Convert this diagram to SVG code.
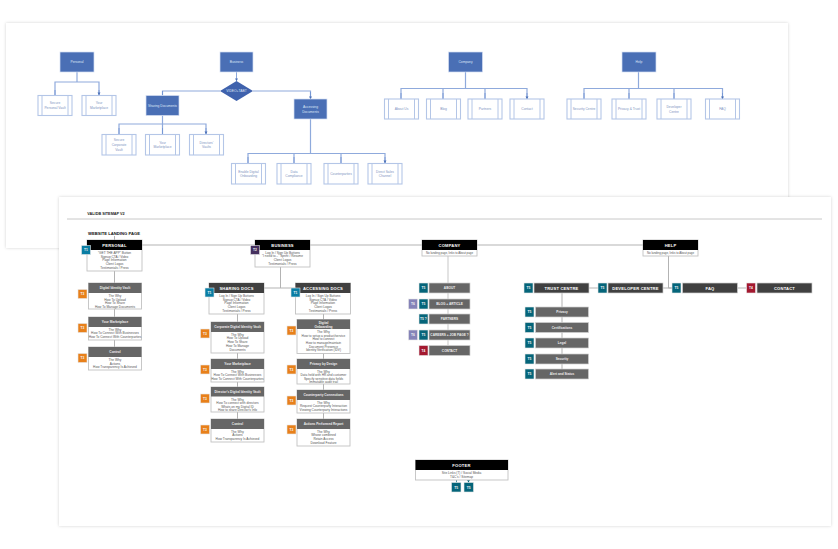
<svg xmlns="http://www.w3.org/2000/svg" width="838" height="549" viewBox="0 0 838 549">
<style>
text{font-family:"Liberation Sans",Arial,sans-serif;text-anchor:middle}
.pn{fill:#fff;filter:url(#sh)}
.bc{fill:none;stroke:#8faadc;stroke-width:1.2}
.ba{fill:none;stroke:#6f92d2;stroke-width:.8;marker-end:url(#ah)}
.bn{fill:#4a6fb5;stroke:#d5dff2;stroke-width:.7}
.bd{fill:#3f62ad}
.bp{fill:#fff;stroke:#b4c6e7;stroke-width:1.1}
.bl{stroke:#b4c6e7;stroke-width:1}
.bw{font-size:3.3px;fill:#dfe7f7}
.bt{font-size:3.3px;fill:#7d93c2}
.fc{fill:none;stroke:#b3b3b3;stroke-width:1}
.fl{fill:none;stroke:#dcdcdc;stroke-width:1.6}
.bx{fill:#fff;stroke:#c2c2c2;stroke-width:.9}
.hk{fill:#000}.hd{fill:#404040}.hg{fill:#666}
.ed{stroke:#d0d0d0;stroke-width:.7}
.tt{font-size:4.100px;font-weight:700;fill:#fff;letter-spacing:.2px}
.ts{font-size:3.2px;font-weight:700;fill:#eee}
.tb{font-size:3.2px;fill:#555}
.bg{font-size:3.3px;font-weight:700;fill:#f4f4f4}
.t1{fill:#0a7ea4}.t2{fill:#45305f}.t3{fill:#e8801a}.t4{fill:#a3182f}.t5{fill:#05657a}.t6{fill:#8583b8}
.sq{stroke:#e6e6e6;stroke-width:.6}
</style>
<defs>
<filter id="sh" x="-3%" y="-5%" width="106%" height="110%"><feDropShadow dx="0" dy="0" stdDeviation="1.6" flood-color="#000" flood-opacity=".18"/></filter>
<marker id="ah" markerUnits="userSpaceOnUse" markerWidth="4" markerHeight="4" refX="2.600" refY="1.500" orient="auto"><path d="M0 0L2.600 1.500L0 3z" fill="#4a6fb5"/></marker>
<marker id="at" markerUnits="userSpaceOnUse" markerWidth="4" markerHeight="4" refX="2.600" refY="1.500" orient="auto"><path d="M0 0L2.600 1.500L0 3z" fill="#05657a"/></marker>
</defs>
<rect id="panel-back" class="pn" x="6" y="23" width="782" height="225"/>
<g id="connectors-back">
<path class="bc" d="M77 72V82M55 95V82H99V95"/><path class="ba" d="M55 90V95M99 90V95"/>
<path class="ba" d="M236.500 72V81"/>
<path class="bc" d="M220 91H162.500V95M253 91H310.500V99"/><path class="ba" d="M162.500 91V95.500M310.500 92V99"/>
<path class="bc" d="M162.500 115.500V124M119 134V124H206V134M162.500 124V134"/><path class="ba" d="M119 128V134M162.500 128V134M206 128V134"/>
<path class="bc" d="M310.500 119V153.500M248 163V153.500H385V163M294 153.500V163M341 153.500V163"/><path class="ba" d="M248 157V163M294 157V163M341 157V163M385 157V163"/>
<path class="bc" d="M465.500 72V88.500M401 99V88.500H527V99M443 88.500V99M485 88.500V99"/><path class="ba" d="M401 93V99M443 93V99M485 93V99M527 93V99"/>
<path class="bc" d="M638.500 72V88.500M584 99V88.500H722.500V99M629 88.500V99M674 88.500V99"/><path class="ba" d="M584 93V99M629 93V99M674 93V99M722.500 93V99"/>
</g>
<g id="b-personal"><rect class="bn" x="60" y="52" width="34" height="20"/><text class="bw" x="77" y="63">Personal</text></g>
<g id="b-business"><rect class="bn" x="220" y="52" width="33" height="20"/><text class="bw" x="236.500" y="63">Business</text></g>
<g id="b-video"><path class="bd" d="M236.500 81L253 91L236.500 101L220 91z"/><text class="bw" x="236.500" y="92">VIDEO+TABT</text></g>
<g id="b-sharing"><rect class="bn" x="146" y="95.500" width="33" height="20"/><text class="bw" x="162.500" y="106.500">Sharing Documents</text></g>
<g id="b-accessing"><rect class="bn" x="294" y="99" width="33" height="20"/><text class="bw" x="310.500" y="107.500">Accessing</text><text class="bw" x="310.500" y="112.500">Documents</text></g>
<g id="b-company"><rect class="bn" x="448.500" y="52" width="34" height="20"/><text class="bw" x="465.500" y="63">Company</text></g>
<g id="b-help"><rect class="bn" x="622" y="52" width="34" height="20"/><text class="bw" x="639" y="63">Help</text></g>
<g id="b-secure-vault"><rect class="bp" x="38" y="95.500" width="34" height="20"/><path class="bl" d="M42 95.500V115.500M68 95.500V115.500"/><text class="bt" x="55" y="104">Secure</text><text class="bt" x="55" y="109">Personal Vault</text></g>
<g id="b-marketplace1"><rect class="bp" x="82" y="95.500" width="34" height="20"/><path class="bl" d="M86 95.500V115.500M112 95.500V115.500"/><text class="bt" x="99" y="104">Your</text><text class="bt" x="99" y="109">Marketplace</text></g>
<g id="b-corp-vault"><rect class="bp" x="102" y="134.500" width="34" height="20.500"/><path class="bl" d="M106 134.500V155M132 134.500V155"/><text class="bt" x="119" y="141">Secure</text><text class="bt" x="119" y="146">Corporate</text><text class="bt" x="119" y="150.500">Vault</text></g>
<g id="b-marketplace2"><rect class="bp" x="145.500" y="134.500" width="34" height="20.500"/><path class="bl" d="M149.500 134.500V155M175.500 134.500V155"/><text class="bt" x="162.500" y="143.500">Your</text><text class="bt" x="162.500" y="148">Marketplace</text></g>
<g id="b-directors"><rect class="bp" x="189.500" y="134.500" width="34" height="20.500"/><path class="bl" d="M193.500 134.500V155M219.500 134.500V155"/><text class="bt" x="206.500" y="143.500">Directors'</text><text class="bt" x="206.500" y="148">Vaults</text></g>
<g id="b-onboarding"><rect class="bp" x="231.500" y="163.500" width="34" height="20.500"/><path class="bl" d="M235.500 163.500V184M261.500 163.500V184"/><text class="bt" x="248.500" y="172.500">Enable Digital</text><text class="bt" x="248.500" y="177">Onboarding</text></g>
<g id="b-data"><rect class="bp" x="277" y="163.500" width="34" height="20.500"/><path class="bl" d="M281 163.500V184M307 163.500V184"/><text class="bt" x="294" y="172.500">Data</text><text class="bt" x="294" y="177">Compliance</text></g>
<g id="b-counter"><rect class="bp" x="324" y="163.500" width="34" height="20.500"/><path class="bl" d="M328 163.500V184M354 163.500V184"/><text class="bt" x="341" y="175">Counterparties</text></g>
<g id="b-direct"><rect class="bp" x="368" y="163.500" width="34" height="20.500"/><path class="bl" d="M372 163.500V184M398 163.500V184"/><text class="bt" x="385" y="172.500">Direct Sales</text><text class="bt" x="385" y="177">Channel</text></g>
<g id="b-about"><rect class="bp" x="384.500" y="99" width="34" height="20"/><path class="bl" d="M388.500 99V119M414.500 99V119"/><text class="bt" x="401.500" y="110">About Us</text></g>
<g id="b-blog"><rect class="bp" x="426.500" y="99" width="34" height="20"/><path class="bl" d="M430.500 99V119M456.500 99V119"/><text class="bt" x="443.500" y="110">Blog</text></g>
<g id="b-partners"><rect class="bp" x="468" y="99" width="34" height="20"/><path class="bl" d="M472 99V119M498 99V119"/><text class="bt" x="485" y="110">Partners</text></g>
<g id="b-contact"><rect class="bp" x="510" y="99" width="34" height="20"/><path class="bl" d="M514 99V119M540 99V119"/><text class="bt" x="527" y="110">Contact</text></g>
<g id="b-security"><rect class="bp" x="567" y="99" width="34" height="20"/><path class="bl" d="M571 99V119M597 99V119"/><text class="bt" x="584" y="110">Security Centre</text></g>
<g id="b-privacy"><rect class="bp" x="612" y="99" width="34" height="20"/><path class="bl" d="M616 99V119M642 99V119"/><text class="bt" x="629" y="110">Privacy &amp; Trust</text></g>
<g id="b-developer"><rect class="bp" x="657" y="99" width="34" height="20"/><path class="bl" d="M661 99V119M687 99V119"/><text class="bt" x="674" y="107.500">Developer</text><text class="bt" x="674" y="112.500">Centre</text></g>
<g id="b-faq"><rect class="bp" x="705.500" y="99" width="34" height="20"/><path class="bl" d="M709.500 99V119M735.500 99V119"/><text class="bt" x="722.500" y="110">FAQ</text></g>

<rect id="panel-front" class="pn" x="59" y="197" width="772" height="329"/>
<text x="106" y="214.500" style="font-size:3.800px;font-weight:700;fill:#222">VALIDB SITEMAP V2</text>
<path d="M67 219H822" stroke="#c8c8c8" stroke-width="1" fill="none"/>
<text x="114" y="235" style="font-size:4.200px;font-weight:700;fill:#111">WEBSITE LANDING PAGE</text>
<g id="connectors-front">
<path class="fc" d="M142 245H255M310 245H422M477 245H643"/>
<path class="fc" d="M114.500 236V240M114.500 271V347"/>
<path class="fc" d="M280.500 267V288M264 288H295.500"/>
<path class="fc" d="M237.500 314V419M323.500 314V419"/>
<path class="fl" d="M448 256V345"/>
<path class="fc" d="M562 293V369M589 288H598M668.500 256V288H672M663 288H672M737.500 288H746"/>
<path d="M456.500 478V482.500M468.500 478V482.500" fill="none" stroke="#05657a" stroke-width=".7" marker-end="url(#at)"/>
</g>
<g id="f-personal"><rect class="bx" x="87" y="240" width="55" height="31"/><rect class="hk" x="87" y="240" width="55" height="10"/><text class="tt" x="114.500" y="246.700">PERSONAL</text><text class="tb" x="114.500" y="254">"GET THE APP" Button</text><text class="tb" x="114.500" y="257.700">Signup CTA / Video</text><text class="tb" x="114.500" y="261.400">Page Information</text><text class="tb" x="114.500" y="265.100">Client Logos</text><text class="tb" x="114.500" y="268.800">Testimonials / Press</text><rect class="t1 sq" x="81.500" y="245.500" width="9" height="9"/><text class="bg" x="86" y="251.200">T1</text></g>
<g id="f-business"><rect class="bx" x="255" y="240" width="55" height="27"/><rect class="hk" x="255" y="240" width="55" height="10"/><text class="tt" x="282.500" y="246.700">BUSINESS</text><text class="tb" x="282.500" y="254">Log In / Sign Up Buttons</text><text class="tb" x="282.500" y="257.200">"I need to..." Sprint / Resume</text><text class="tb" x="282.500" y="260.900">Client Logos</text><text class="tb" x="282.500" y="264.600">Testimonials / Press</text><rect class="t2 sq" x="250.500" y="245.500" width="9" height="9"/><text class="bg" x="255" y="251.200">T2</text></g>
<g id="f-company"><rect class="bx" x="422" y="240" width="55" height="16"/><rect class="hk" x="422" y="240" width="55" height="10"/><text class="tt" x="449.500" y="246.700">COMPANY</text><text class="tb" x="449.500" y="254" style="font-size:2.900px">No landing page, links to About page</text></g>
<g id="f-help"><rect class="bx" x="643" y="240" width="55" height="16"/><rect class="hk" x="643" y="240" width="55" height="10"/><text class="tt" x="670.500" y="246.700">HELP</text><text class="tb" x="670.500" y="254" style="font-size:2.900px">No landing page, links to About page</text></g>
<g id="f-footer"><rect class="bx" x="415.500" y="460" width="92.500" height="20"/><rect class="hk" x="415.500" y="460" width="92.500" height="10"/><text class="tt" x="461.500" y="466.700">FOOTER</text><text class="tb" x="461.500" y="473.500">Site Links (T) / Social Media</text><text class="tb" x="461.500" y="477.500">T&amp;C's / Sitemap</text></g>
<g id="f-t5a"><rect class="t5 sq" x="451.500" y="482.500" width="9.500" height="9.500"/><text class="bg" x="456.300" y="488.500">T5</text></g>
<g id="f-t5b"><rect class="t5 sq" x="464" y="482.500" width="9.500" height="9.500"/><text class="bg" x="468.800" y="488.500">T5</text></g>

<g id="f-digital-vault"><rect class="bx" x="88.500" y="283" width="53" height="26"/><rect class="hg" x="88.500" y="283" width="53" height="10"/><text class="ts" x="115" y="289">Digital Identity Vault</text><text class="tb" x="115" y="297">The Why</text><text class="tb" x="115" y="300.700">How To Upload</text><text class="tb" x="115" y="304">How To Share</text><text class="tb" x="115" y="307.800">How To Manage Documents</text><rect class="t3 sq" x="78" y="289.500" width="9" height="9"/><text class="bg" x="82.500" y="295.200">T3</text></g>
<g id="f-marketplace1"><rect class="bx" x="88.500" y="317" width="53" height="23"/><rect class="hg" x="88.500" y="317" width="53" height="10"/><text class="ts" x="115" y="323">Your Marketplace</text><text class="tb" x="115" y="330.500">The Why</text><text class="tb" x="115" y="334">How To Connect With Businesses</text><text class="tb" x="115" y="338">How To Connect With Counterparties</text><rect class="t3 sq" x="78" y="323.500" width="9" height="9"/><text class="bg" x="82.500" y="329.200">T3</text></g>
<g id="f-control1"><rect class="bx" x="88.500" y="347" width="53" height="23"/><rect class="hg" x="88.500" y="347" width="53" height="10"/><text class="ts" x="115" y="353.200">Control</text><text class="tb" x="115" y="360.500">The Why</text><text class="tb" x="115" y="364.500">Actions</text><text class="tb" x="115" y="368.200">How Transparency Is Achieved</text><rect class="t3 sq" x="78" y="353.500" width="9" height="9"/><text class="bg" x="82.500" y="359.200">T3</text></g>

<g id="f-sharing"><rect class="bx" x="209" y="283" width="55" height="31"/><rect class="hd" x="209" y="283" width="55" height="10"/><text class="tt" x="236.500" y="289.700">SHARING DOCS</text><text class="tb" x="236.500" y="297">Log In / Sign Up Buttons</text><text class="tb" x="236.500" y="300.500">Signup CTA / Video</text><text class="tb" x="236.500" y="304">Page Information</text><text class="tb" x="236.500" y="308">Client Logos</text><text class="tb" x="236.500" y="311.700">Testimonials / Press</text><rect class="t1 sq" x="205" y="288" width="9" height="9"/><text class="bg" x="209.500" y="293.700">T1</text></g>
<g id="f-accessing"><rect class="bx" x="295.500" y="283" width="55" height="31"/><rect class="hd" x="295.500" y="283" width="55" height="10"/><text class="tt" x="323" y="289.700">ACCESSING DOCS</text><text class="tb" x="323" y="297">Log In / Sign Up Buttons</text><text class="tb" x="323" y="300.500">Signup CTA / Video</text><text class="tb" x="323" y="304">Page Information</text><text class="tb" x="323" y="308">Client Logos</text><text class="tb" x="323" y="311.700">Testimonials / Press</text><rect class="t1 sq" x="291" y="288" width="9" height="9"/><text class="bg" x="295.500" y="293.700">T1</text></g>
<g id="f-corp-vault"><rect class="bx" x="211" y="322" width="53" height="31"/><rect class="hg" x="211" y="322" width="53" height="10"/><text class="ts" x="237.500" y="328">Corporate Digital Identity Vault</text><text class="tb" x="237.500" y="335.500">The Why</text><text class="tb" x="237.500" y="339.300">How To Upload</text><text class="tb" x="237.500" y="343">How To Share</text><text class="tb" x="237.500" y="347">How To Manage</text><text class="tb" x="237.500" y="350.700">Documents</text><rect class="t3 sq" x="200.500" y="329" width="9" height="9"/><text class="bg" x="205" y="334.700">T3</text></g>
<g id="f-marketplace2"><rect class="bx" x="211" y="359" width="53" height="23"/><rect class="hg" x="211" y="359" width="53" height="10"/><text class="ts" x="237.500" y="365.200">Your Marketplace</text><text class="tb" x="237.500" y="372.500">The Why</text><text class="tb" x="237.500" y="376.300">How To Connect With Businesses</text><text class="tb" x="237.500" y="380">How To Connect With Counterparties</text><rect class="t3 sq" x="200.500" y="365" width="9" height="9"/><text class="bg" x="205" y="370.700">T3</text></g>
<g id="f-directors"><rect class="bx" x="211" y="387" width="53" height="25"/><rect class="hg" x="211" y="387" width="53" height="9.500"/><text class="ts" x="237.500" y="393">Director's Digital Identity Vault</text><text class="tb" x="237.500" y="400.500">The Why</text><text class="tb" x="237.500" y="404">How To connect with directors</text><text class="tb" x="237.500" y="407.500">Whats on my Digital ID</text><text class="tb" x="237.500" y="411">How to share Director's Info</text><rect class="t3 sq" x="200.500" y="394" width="9" height="9"/><text class="bg" x="205" y="399.700">T3</text></g>
<g id="f-control2"><rect class="bx" x="211" y="419" width="53" height="23"/><rect class="hg" x="211" y="419" width="53" height="10"/><text class="ts" x="237.500" y="425">Control</text><text class="tb" x="237.500" y="432.500">The Why</text><text class="tb" x="237.500" y="436.300">Actions</text><text class="tb" x="237.500" y="440">How Transparency Is Achieved</text><rect class="t3 sq" x="200.500" y="425" width="9" height="9"/><text class="bg" x="205" y="430.700">T3</text></g>
<g id="f-onboarding"><rect class="bx" x="297" y="319.500" width="53" height="34"/><rect class="hg" x="297" y="319.500" width="53" height="9.500"/><text class="ts" x="323.500" y="323.500">Digital</text><text class="ts" x="323.500" y="327.500">Onboarding</text><text class="tb" x="323.500" y="333">The Why</text><text class="tb" x="323.500" y="336.700">How to setup a product/service</text><text class="tb" x="323.500" y="340">How to connect</text><text class="tb" x="323.500" y="344">How to manage/maintain</text><text class="tb" x="323.500" y="347.700">Document Presence</text><text class="tb" x="323.500" y="351.400">Identity Verification (IDV)</text><rect class="t3 sq" x="287" y="326" width="9" height="9"/><text class="bg" x="291.500" y="331.700">T3</text></g>
<g id="f-privacy"><rect class="bx" x="297" y="359" width="53" height="25"/><rect class="hg" x="297" y="359" width="53" height="10"/><text class="ts" x="323.500" y="365">Privacy by Design</text><text class="tb" x="323.500" y="372.500">The Why</text><text class="tb" x="323.500" y="376">Data held with HR and customer</text><text class="tb" x="323.500" y="380">Specify sensitive data fields</text><text class="tb" x="323.500" y="383.200">Immutable audit trail</text><rect class="t3 sq" x="287" y="365" width="9" height="9"/><text class="bg" x="291.500" y="370.700">T3</text></g>
<g id="f-counterparty"><rect class="bx" x="297" y="390" width="53" height="23"/><rect class="hg" x="297" y="390" width="53" height="10"/><text class="ts" x="323.500" y="396">Counterparty Connections</text><text class="tb" x="323.500" y="403.500">The Why</text><text class="tb" x="323.500" y="407.300">Request Counterparty Interaction</text><text class="tb" x="323.500" y="411">Viewing Counterparty Interactions</text><rect class="t3 sq" x="287" y="396" width="9" height="9"/><text class="bg" x="291.500" y="401.700">T3</text></g>
<g id="f-actions"><rect class="bx" x="297" y="419" width="53" height="27"/><rect class="hg" x="297" y="419" width="53" height="10"/><text class="ts" x="323.500" y="425">Actions Performed Report</text><text class="tb" x="323.500" y="432.500">The Why</text><text class="tb" x="323.500" y="436.300">Whose combined</text><text class="tb" x="323.500" y="440">Retain Access</text><text class="tb" x="323.500" y="443.800">Download Feature</text><rect class="t3 sq" x="287" y="425" width="9" height="9"/><text class="bg" x="291.500" y="430.700">T3</text></g>

<g id="f-about"><rect class="hg ed" x="429" y="283" width="41" height="10"/><text class="ts" x="449.500" y="289">ABOUT</text><rect class="t5 sq" x="419" y="283" width="9" height="10"/><text class="bg" x="423.500" y="289.200">T5</text></g>
<g id="f-blog"><rect class="hg ed" x="429" y="299" width="41" height="10"/><text class="ts" x="449.500" y="305">BLOG + ARTICLE</text><rect class="t5 sq" x="419" y="299" width="9" height="10"/><text class="bg" x="423.500" y="305.200">T5</text><rect class="t6 sq" x="408.500" y="299" width="9" height="10"/><text class="bg" x="413" y="305.200">T6</text></g>
<g id="f-partners"><rect class="hg ed" x="429" y="314" width="41" height="10"/><text class="ts" x="449.500" y="320">PARTNERS</text><rect class="t5 sq" x="419" y="314" width="9" height="10"/><text class="bg" x="423.500" y="320.200">T5 ?</text></g>
<g id="f-careers"><rect class="hg ed" x="429" y="330" width="41" height="10"/><text class="ts" x="449.500" y="336">CAREERS + JOB PAGE ?</text><rect class="t5 sq" x="419" y="330" width="9" height="10"/><text class="bg" x="423.500" y="336.200">T5</text><rect class="t6 sq" x="408.500" y="330" width="9" height="10"/><text class="bg" x="413" y="336.200">T6</text></g>
<g id="f-contact1"><rect class="hg ed" x="429" y="345.500" width="41" height="10"/><text class="ts" x="449.500" y="351.500">CONTACT</text><rect class="t4 sq" x="419" y="345.500" width="9" height="10"/><text class="bg" x="423.500" y="351.700">T4</text></g>

<g id="f-trust"><rect class="hd ed" x="534" y="283" width="55" height="10"/><text class="tt" x="561.500" y="289.700">TRUST CENTRE</text><rect class="t5 sq" x="524" y="283" width="9" height="10"/><text class="bg" x="528.500" y="289.200">T5</text></g>
<g id="f-tc-privacy"><rect class="hg ed" x="535.500" y="307" width="53" height="10"/><text class="ts" x="562" y="313">Privacy</text><rect class="t5 sq" x="525" y="307" width="9" height="10"/><text class="bg" x="529.500" y="313.200">T5</text></g>
<g id="f-tc-cert"><rect class="hg ed" x="535.500" y="322.500" width="53" height="10"/><text class="ts" x="562" y="328.500">Certifications</text><rect class="t5 sq" x="525" y="322.500" width="9" height="10"/><text class="bg" x="529.500" y="328.700">T5</text></g>
<g id="f-tc-legal"><rect class="hg ed" x="535.500" y="338" width="53" height="10"/><text class="ts" x="562" y="344">Legal</text><rect class="t5 sq" x="525" y="338" width="9" height="10"/><text class="bg" x="529.500" y="344.200">T5</text></g>
<g id="f-tc-security"><rect class="hg ed" x="535.500" y="354" width="53" height="10"/><text class="ts" x="562" y="360">Security</text><rect class="t5 sq" x="525" y="354" width="9" height="10"/><text class="bg" x="529.500" y="360.200">T5</text></g>
<g id="f-tc-alert"><rect class="hg ed" x="535.500" y="369" width="53" height="10"/><text class="ts" x="562" y="375">Alert and Status</text><rect class="t5 sq" x="525" y="369" width="9" height="10"/><text class="bg" x="529.500" y="375.200">T5</text></g>

<g id="f-devcentre"><rect class="hd ed" x="608" y="283" width="55" height="10"/><text class="tt" x="635.500" y="289.700">DEVELOPER CENTRE</text><rect class="t5 sq" x="598" y="283" width="9" height="10"/><text class="bg" x="602.500" y="289.200">T5</text></g>
<g id="f-faq"><rect class="hd ed" x="682.500" y="283" width="55" height="10"/><text class="tt" x="710" y="289.700">FAQ</text><rect class="t5 sq" x="672" y="283" width="9" height="10"/><text class="bg" x="676.500" y="289.200">T5</text></g>
<g id="f-contact2"><rect class="hd ed" x="757" y="283" width="55" height="10"/><text class="tt" x="784.500" y="289.700">CONTACT</text><rect class="t4 sq" x="746.500" y="283" width="9" height="10"/><text class="bg" x="751" y="289.200">T4</text></g>
</svg>
